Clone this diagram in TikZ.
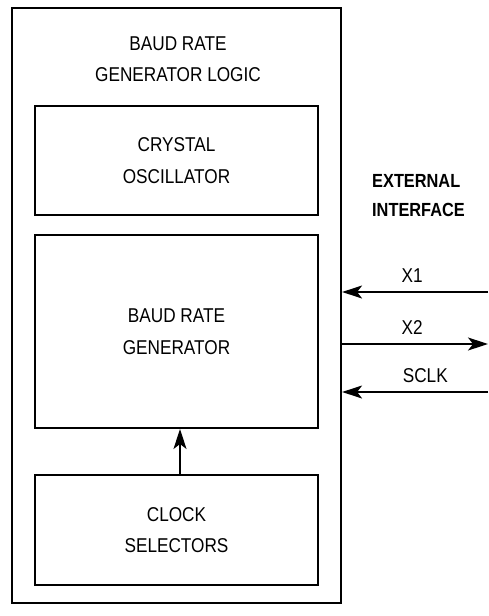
\documentclass[tikz,border=0pt]{standalone}
\usepackage{fontspec}
\setmainfont{Liberation Sans}[FakeStretch=0.86]
\usetikzlibrary{arrows.meta, positioning, calc}

\tikzset{
  block/.style={
    rectangle, draw, line width=2pt, minimum width=283pt,
    align=center, font=\fontsize{20}{31.5}\selectfont, inner sep=0pt
  },
  frame/.style={
    rectangle, draw, line width=2.2pt, minimum width=329pt, minimum height=595pt,
    inner sep=0pt
  },
  signal/.style={
    line width=1.3pt, -{Stealth[length=20pt, width=13pt, inset=5pt]}
  },
  pinlabel/.style={
    font=\fontsize{20}{21}\selectfont, inner sep=0pt
  }
}

\begin{document}
\begin{tikzpicture}[x=1pt, y=-1pt]
  \useasboundingbox (0,0) rectangle (488,616);

  % Outer logic block
  \node[frame] (logic) at (176.5,305.5) {};
  \node[block, draw=none] (title) at (178,59) {BAUD RATE\\GENERATOR LOGIC};

  % Inner blocks
  \node[block, minimum height=109pt] (crystal) at (176.5,160.5) {CRYSTAL\\OSCILLATOR};
  \node[block, minimum height=193pt] (baudgen) at (176.5,331.5) {BAUD RATE\\GENERATOR};
  \node[block, minimum height=110pt] (clksel) at (176.5,530) {CLOCK\\SELECTORS};

  % External side
  \node[pinlabel, font=\fontsize{19}{29}\selectfont\bfseries, align=left, anchor=west]
    (extif) at (372,196) {EXTERNAL\\INTERFACE};
  \coordinate (xone) at (488,292);
  \coordinate (xtwo) at (488,344);
  \coordinate (sclk) at (488,392);

  % Arrows
  \draw[signal] (clksel.north -| 180,0) -- (baudgen.south -| 180,0);
  \draw[signal] (xone) -- node[pinlabel, above=9pt, pos=0.52] (xonelbl) {X1} (logic.east |- xone);
  \draw[signal] (logic.east |- xtwo) -- node[pinlabel, above=9pt, pos=0.48] (xtwolbl) {X2} (xtwo);
  \draw[signal] (sclk) -- node[pinlabel, above=9pt, pos=0.43] (sclklbl) {SCLK} (logic.east |- sclk);

\end{tikzpicture}
\end{document}
